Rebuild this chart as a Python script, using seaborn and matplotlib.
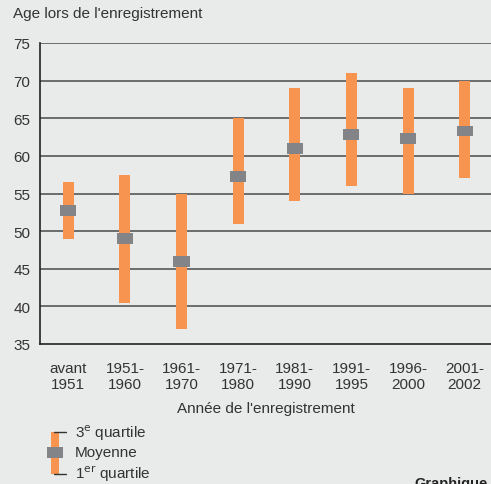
import numpy as np
import matplotlib
matplotlib.use("Agg")
import matplotlib.pyplot as plt
import seaborn as sns
from matplotlib.patches import Rectangle
from matplotlib.lines import Line2D

periods = ["avant\n1951", "1951-\n1960", "1961-\n1970", "1971-\n1980",
           "1981-\n1990", "1991-\n1995", "1996-\n2000", "2001-\n2002"]
q1 = [49.0, 40.5, 37.0, 51.0, 54.0, 56.0, 55.0, 57.0]
q3 = [56.5, 57.5, 55.0, 65.0, 69.0, 71.0, 69.0, 70.0]
mean = [52.7, 49.0, 46.0, 57.2, 61.0, 62.8, 62.3, 63.3]
yticks = [35, 40, 45, 50, 55, 60, 65, 70, 75]

bg = "#E9EAEA"
orange = "#F7944F"
grey = "#838488"
txt = "#333333"
fs = 11

sns.set_theme(style="white", rc={"axes.facecolor": bg, "figure.facecolor": bg})
plt.rcParams["font.family"] = ["Liberation Sans", "DejaVu Sans"]

W, H = 491, 485
fig = plt.figure(figsize=(W / 100, H / 100), dpi=100)
ax = fig.add_axes([40 / W, (H - 345) / H, 1 - 40 / W + 0.004, 301 / H])

x = np.arange(len(periods))
q1a, q3a, ma = np.array(q1), np.array(q3), np.array(mean)

for t in yticks[1:]:
    ax.axhline(t, color="#4a4a4a", lw=1.1, zorder=1)

ax.bar(x, q3a - q1a, bottom=q1a, width=0.195, color=orange,
       linewidth=0, edgecolor="none", zorder=2)
mh = 1.45
ax.bar(x, mh, bottom=ma - mh / 2, width=0.285, color=grey,
       linewidth=0, edgecolor="none", zorder=3)

ax.set_xlim(-0.5, 7.5)
ax.set_ylim(35, 75)
ax.set_yticks(yticks)
ax.set_yticklabels([str(t) for t in yticks], fontsize=fs, color=txt)
ax.set_xticks(x)
ax.set_xticklabels(periods, fontsize=fs, color=txt, linespacing=1.2)
ax.tick_params(axis="x", length=0, pad=12)
ax.tick_params(axis="y", length=0, pad=7)

for s in ["top", "right"]:
    ax.spines[s].set_visible(False)
for s in ["left", "bottom"]:
    ax.spines[s].set_color("#222222")
    ax.spines[s].set_linewidth(1.2)

def fx(px):
    return px / W

def fy(py):
    return (H - py) / H

fig.text(fx(13), fy(14), "Age lors de l'enregistrement", fontsize=fs,
         color=txt, ha="left", va="center")
fig.text(fx(266), fy(409), "Année de l'enregistrement", fontsize=fs,
         color=txt, ha="center", va="center")

# legend
fig.add_artist(Rectangle((fx(51), fy(475)), 8 / W, 42 / H, color=orange,
                         linewidth=0, transform=fig.transFigure))
fig.add_artist(Rectangle((fx(47), fy(459)), 16 / W, 11 / H, color=grey,
                         linewidth=0, transform=fig.transFigure))
for py in (433, 475):
    fig.add_artist(Line2D([fx(54), fx(66)], [fy(py), fy(py)], color="#333333",
                          lw=1, transform=fig.transFigure))
fig.text(fx(75), fy(433), "3$^{\\mathrm{e}}$ quartile", fontsize=fs,
         color=txt, ha="left", va="center")
fig.text(fx(75), fy(453), "Moyenne", fontsize=fs, color=txt,
         ha="left", va="center")
fig.text(fx(75), fy(474), "1$^{\\mathrm{er}}$ quartile", fontsize=fs,
         color=txt, ha="left", va="center")
fig.text(fx(414), fy(477), "Graphique", fontsize=10.5, fontweight="bold",
         color="#222222", ha="left", va="top")

fig.savefig("out.png", dpi=100, facecolor=bg)
